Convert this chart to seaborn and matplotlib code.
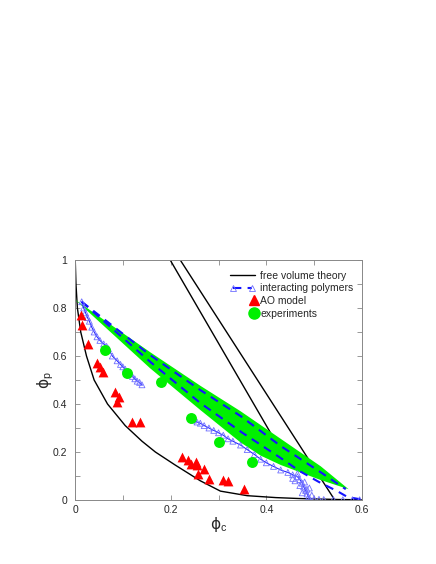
import numpy as np
import matplotlib
matplotlib.use('Agg')
import matplotlib.pyplot as plt
from matplotlib.lines import Line2D
from matplotlib.legend_handler import HandlerLine2D
from matplotlib.ticker import FuncFormatter, MultipleLocator
import seaborn as sns

# free volume theory: fluid branch + two straight lines
fvt_curve_x = [0.0005, 0.002, 0.005, 0.012, 0.024, 0.04, 0.068, 0.105, 0.14, 0.168,
               0.21, 0.262, 0.304, 0.36, 0.42, 0.47, 0.55, 0.6]
fvt_curve_y = [1.0, 0.9, 0.8, 0.7, 0.6, 0.5, 0.4, 0.31, 0.245, 0.2,
               0.145, 0.08, 0.037, 0.018, 0.01, 0.006, 0.002, 0.001]
fvt_line1_x = [0.199, 0.432]
fvt_line1_y = [1.0, 0.2]
fvt_line2_x = [0.22, 0.543]
fvt_line2_y = [1.0, 0.0]

# interacting polymers: green band (theory region) and dashed boundaries
band_upper_x = [0.0, 0.157, 0.262, 0.346, 0.43, 0.514, 0.572]
band_upper_y = [0.835, 0.616, 0.476, 0.37, 0.255, 0.14, 0.045]
band_lower_x = [0.572, 0.514, 0.43, 0.388, 0.346, 0.262, 0.157, 0.0]
band_lower_y = [0.045, 0.083, 0.146, 0.185, 0.24, 0.375, 0.549, 0.835]

dash_upper_x = [0.014, 0.157, 0.262, 0.346, 0.43, 0.514, 0.566]
dash_upper_y = [0.826, 0.604, 0.458, 0.35, 0.225, 0.115, 0.045]
dash_lower_x = [0.014, 0.157, 0.262, 0.35, 0.43, 0.47, 0.51, 0.55, 0.57, 0.6]
dash_lower_y = [0.826, 0.576, 0.404, 0.28, 0.175, 0.12, 0.075, 0.035, 0.012, 0.002]

# interacting polymers: simulation points
poly_fluid_x = [0.014, 0.018, 0.022, 0.026, 0.03, 0.035, 0.04, 0.046, 0.052, 0.06,
                0.066, 0.07, 0.078, 0.088, 0.095, 0.1, 0.105, 0.11, 0.115, 0.12,
                0.125, 0.13, 0.135, 0.14]
poly_fluid_y = [0.826, 0.8, 0.78, 0.76, 0.745, 0.72, 0.7, 0.68, 0.665, 0.65,
                0.64, 0.63, 0.6, 0.58, 0.565, 0.555, 0.545, 0.535, 0.525, 0.515,
                0.505, 0.495, 0.49, 0.48]
poly_solid_x = [0.248, 0.255, 0.262, 0.27, 0.28, 0.29, 0.3, 0.31, 0.32, 0.33,
                0.346, 0.36, 0.375, 0.388, 0.4, 0.415, 0.43, 0.445, 0.455, 0.465,
                0.47, 0.475, 0.478, 0.482, 0.485, 0.488, 0.49]
poly_solid_y = [0.333, 0.325, 0.32, 0.31, 0.3, 0.29, 0.28, 0.27, 0.255, 0.245,
                0.229, 0.21, 0.19, 0.17, 0.155, 0.14, 0.125, 0.115, 0.105, 0.097,
                0.085, 0.07, 0.055, 0.04, 0.025, 0.012, 0.004]
poly_extra_x = [0.455, 0.46, 0.47, 0.48, 0.49, 0.475, 0.495, 0.485, 0.465, 0.5,
                0.51, 0.52, 0.54, 0.56, 0.58, 0.595]
poly_extra_y = [0.09, 0.08, 0.06, 0.075, 0.05, 0.03, 0.02, 0.045, 0.11, 0.004,
                0.003, 0.002, 0.002, 0.001, 0.001, 0.001]

# AO model
ao_x = [0.012, 0.014, 0.027, 0.045, 0.052, 0.059, 0.084, 0.091, 0.087, 0.119,
        0.135, 0.224, 0.236, 0.243, 0.252, 0.255, 0.27, 0.257, 0.28, 0.309,
        0.32, 0.354]
ao_y = [0.771, 0.729, 0.65, 0.572, 0.553, 0.535, 0.451, 0.43, 0.41, 0.324,
        0.326, 0.181, 0.167, 0.15, 0.16, 0.146, 0.128, 0.108, 0.087, 0.083,
        0.079, 0.046]

# experiments
exp_x = [0.063, 0.108, 0.18, 0.242, 0.3, 0.371]
exp_y = [0.625, 0.53, 0.49, 0.343, 0.241, 0.157]


class RightMarker(HandlerLine2D):
    # single marker at the right end of the handle, like the original legend
    def get_xdata(self, legend, xdescent, ydescent, width, height, fontsize):
        xr = -xdescent + width - 0.1 * fontsize
        return [xr], [xr]


sns.set_style('ticks')
plt.rcParams['font.family'] = ['Liberation Sans', 'DejaVu Sans']
plt.rcParams['mathtext.fontset'] = 'custom'
plt.rcParams['mathtext.rm'] = 'Liberation Sans'

fig = plt.figure(figsize=(4.36, 5.64), dpi=100)
ax = fig.add_axes([75 / 436, 64 / 564, 287 / 436, 240 / 564])

blue = '#1414ff'
tri_blue = '#7070ff'
green = '#00f000'

ax.plot(fvt_curve_x, fvt_curve_y, color='black', lw=1.0, zorder=2)
ax.plot(fvt_line1_x, fvt_line1_y, color='black', lw=1.0, zorder=2)
ax.plot(fvt_line2_x, fvt_line2_y, color='black', lw=1.0, zorder=2)

ax.fill(band_upper_x + band_lower_x, band_upper_y + band_lower_y,
        color=green, lw=0, zorder=3)

ax.plot(dash_upper_x, dash_upper_y, color=blue, lw=1.5, ls=(0, (4, 3)), zorder=4)
ax.plot(dash_lower_x, dash_lower_y, color=blue, lw=1.5, ls=(0, (4, 3)), zorder=4)

for px, py in [(poly_fluid_x, poly_fluid_y), (poly_solid_x, poly_solid_y)]:
    ax.plot(px, py, color=blue, lw=0.7, zorder=4)
    sns.scatterplot(x=px, y=py, marker='^', s=18, facecolor='none',
                    edgecolor=tri_blue, linewidth=0.6, ax=ax, zorder=5)
sns.scatterplot(x=poly_extra_x, y=poly_extra_y, marker='^', s=18, facecolor='none',
                edgecolor=tri_blue, linewidth=0.6, ax=ax, zorder=5)

sns.scatterplot(x=ao_x, y=ao_y, marker='^', s=50, color='red', linewidth=0,
                ax=ax, zorder=6)
sns.scatterplot(x=exp_x, y=exp_y, marker='o', s=62, color=green, linewidth=0,
                ax=ax, zorder=7)

ax.set_xlim(0, 0.6)
ax.set_ylim(0, 1)
ax.xaxis.set_major_locator(MultipleLocator(0.2))
ax.xaxis.set_minor_locator(MultipleLocator(0.1))
ax.yaxis.set_major_locator(MultipleLocator(0.2))
ax.yaxis.set_minor_locator(MultipleLocator(0.1))
fmt = FuncFormatter(lambda v, _: '%g' % round(v, 2))
ax.xaxis.set_major_formatter(fmt)
ax.yaxis.set_major_formatter(fmt)
ax.tick_params(which='both', direction='in', top=True, right=True, length=3.5,
               width=0.6, color='#888888', labelsize=7.5)
ax.tick_params(axis='x', which='both', pad=3.5)
ax.tick_params(axis='y', which='both', pad=5.5)
for sp in ax.spines.values():
    sp.set_color('#888888')
    sp.set_linewidth(0.7)

ax.set_xlabel('\u03d5$_\\mathrm{c}$', fontsize=11, labelpad=0, family=['DejaVu Sans'])
ax.set_ylabel('\u03d5$_\\mathrm{p}$', fontsize=11, labelpad=-2, family=['DejaVu Sans'])

handles = [
    Line2D([], [], color='black', lw=1.0),
    Line2D([], [], color=blue, lw=1.5, ls=(0, (4, 3)), marker='^', markersize=5,
           markerfacecolor='none', markeredgecolor=tri_blue, markeredgewidth=0.6),
    Line2D([], [], ls='none', marker='^', markersize=6.5, color='red'),
    Line2D([], [], ls='none', marker='o', markersize=8, color=green),
]
labels = ['free volume theory', 'interacting polymers', 'AO model', 'experiments']
ax.legend(handles, labels, loc='upper left', bbox_to_anchor=(0.54, 0.955),
          frameon=False, fontsize=7.5, handlelength=2.4, handletextpad=0.5,
          labelspacing=0.25, borderpad=0, borderaxespad=0,
          handler_map={handles[1]: HandlerLine2D(numpoints=2),
                       handles[2]: RightMarker(numpoints=2),
                       handles[3]: RightMarker(numpoints=2)})

fig.savefig('out.png', dpi=100)
